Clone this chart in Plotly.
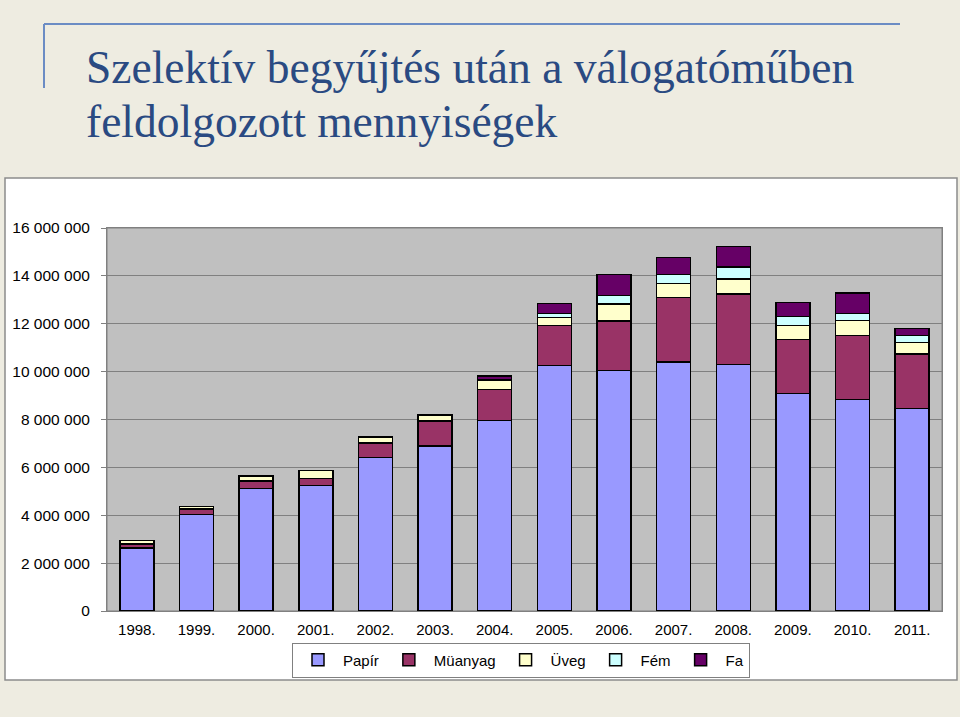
import plotly.graph_objects as go

# ---- data (tonnes / kg as shown) ----
years = ["1998.", "1999.", "2000.", "2001.", "2002.", "2003.", "2004.",
         "2005.", "2006.", "2007.", "2008.", "2009.", "2010.", "2011."]
papir   = [2630000, 4040000, 5110000, 5240000, 6420000, 6890000, 7960000,
           10250000, 10040000, 10400000, 10290000, 9090000, 8840000, 8470000]
muanyag = [170000, 230000, 320000, 300000, 600000, 1050000, 1300000,
           1680000, 2070000, 2700000, 2950000, 2260000, 2660000, 2260000]
uveg    = [140000, 90000, 200000, 340000, 240000, 250000, 390000,
           340000, 710000, 590000, 630000, 580000, 630000, 480000]
fem     = [0, 0, 0, 0, 0, 0, 0,
           160000, 350000, 360000, 500000, 380000, 290000, 290000]
fa      = [0, 0, 0, 0, 0, 0, 170000,
           420000, 880000, 710000, 850000, 570000, 860000, 310000]

series_names = ["Papír", "Müanyag", "Üveg", "Fém", "Fa"]
series_values = [papir, muanyag, uveg, fem, fa]
series_colors = ["#9999FF", "#993366", "#FFFFCC", "#CCFFFF", "#660066"]

y_tick_values = [0, 2000000, 4000000, 6000000, 8000000, 10000000,
                 12000000, 14000000, 16000000]
y_tick_labels = ["0", "2 000 000", "4 000 000", "6 000 000", "8 000 000",
                 "10 000 000", "12 000 000", "14 000 000", "16 000 000"]

title_line1 = "Szelektív begyűjtés után a válogatóműben"
title_line2 = "feldolgozott mennyiségek"

# ---- layout geometry (pixels) ----
W, H = 960, 717
PL, PR, PT, PB = 107, 942, 228, 611


def fx(px):
    return (px - PL) / (PR - PL)


def fy(py):
    return (PB - py) / (PB - PT)


fig = go.Figure()
for name, vals, col in zip(series_names, series_values, series_colors):
    fig.add_trace(go.Bar(
        x=years, y=vals, name=name,
        marker=dict(color=col, line=dict(color="#000000", width=1.5)),
    ))

shapes = [
    # white chart box
    dict(type="rect", xref="paper", yref="paper", layer="below",
         x0=fx(5), x1=fx(957), y0=fy(680), y1=fy(178),
         fillcolor="#FFFFFF", line=dict(color="#8C8C8C", width=1.5)),
    # grey plot area
    dict(type="rect", xref="paper", yref="paper", layer="below",
         x0=0, x1=1, y0=0, y1=1,
         fillcolor="#C0C0C0", line=dict(color="#808080", width=1)),
    # decorative blue lines of the slide title
    dict(type="line", xref="paper", yref="paper",
         x0=fx(44), x1=fx(900), y0=fy(24), y1=fy(24),
         line=dict(color="#6B8CC4", width=2)),
    dict(type="line", xref="paper", yref="paper",
         x0=fx(44), x1=fx(44), y0=fy(24), y1=fy(88),
         line=dict(color="#6B8CC4", width=2)),
]

annotations = [
    dict(text=title_line1, xref="paper", yref="paper",
         x=fx(84), y=fy(67), xanchor="left", yanchor="middle",
         showarrow=False,
         font=dict(family="Liberation Serif", size=45.5, color="#2A4A82")),
    dict(text=title_line2, xref="paper", yref="paper",
         x=fx(84), y=fy(122), xanchor="left", yanchor="middle",
         showarrow=False,
         font=dict(family="Liberation Serif", size=45.5, color="#2A4A82")),
]

fig.update_layout(
    width=W, height=H,
    margin=dict(l=PL, r=W - PR, t=PT, b=H - PB, pad=0),
    paper_bgcolor="#EEECE1",
    plot_bgcolor="rgba(0,0,0,0)",
    barmode="stack",
    bargap=0.43,
    shapes=shapes,
    annotations=annotations,
    font=dict(family="Liberation Sans", size=15, color="#000000"),
    showlegend=True,
    legend=dict(
        orientation="h", traceorder="normal",
        x=fx(521), xanchor="center", y=fy(660), yanchor="middle",
        bgcolor="#FFFFFF", bordercolor="#808080", borderwidth=1,
        font=dict(family="Liberation Sans", size=15, color="#000000"),
        itemwidth=40,
    ),
)

fig.update_xaxes(
    showgrid=False, showline=True, linecolor="#808080", linewidth=1,
    mirror=True, ticks="", ticklabelstandoff=5,
    tickfont=dict(family="Liberation Sans", size=15, color="#000000"),
)
fig.update_yaxes(
    range=[0, 16000000], tickmode="array",
    tickvals=y_tick_values, ticktext=y_tick_labels,
    showgrid=True, gridcolor="#808080", gridwidth=1,
    showline=True, linecolor="#808080", linewidth=1, mirror=True,
    ticks="outside", ticklen=5, tickcolor="#808080",
    ticklabelstandoff=8, zeroline=False,
    tickfont=dict(family="Liberation Sans", size=15.5, color="#000000"),
)

fig.write_html("out.html")
